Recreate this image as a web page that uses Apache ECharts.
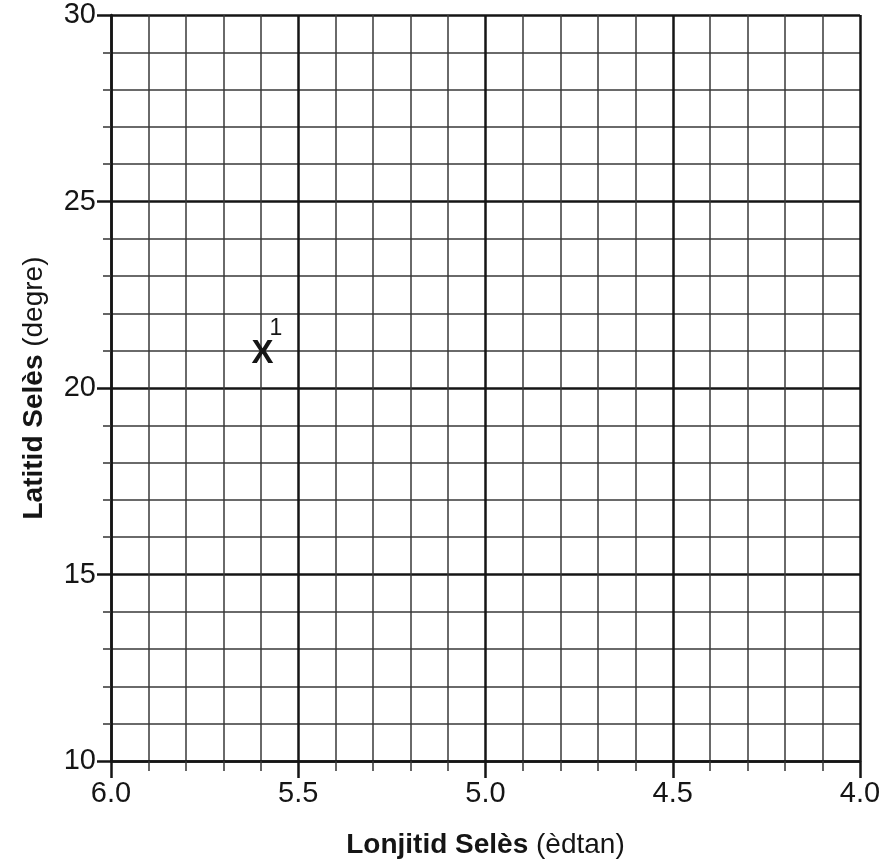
<!DOCTYPE html>
<html>
  <head>
    <meta charset="utf-8" />
    <script src="https://cdn.jsdelivr.net/npm/echarts/dist/echarts.min.js"></script>
  </head>
  <body style="margin:0">
    <div id="chart" style="width: 886px; height: 867px;"></div>
    <script>
        // Data
        var xRange = [4.0, 6.0];     // longitude (west), drawn reversed
        var yRange = [10, 30];       // latitude
        var pointLon = [5.6];
        var pointLat = [21];
        var pointLabels = ['1'];

        var font = '"Liberation Sans", Arial, Helvetica, sans-serif';
        var ink = '#151515';
        var chart = echarts.init(document.getElementById('chart'));

        var option = {
            animation: false,
            grid: { left: 111, right: 26, top: 15, bottom: 106 },
            xAxis: {
                type: 'value',
                inverse: true,
                min: xRange[0],
                max: xRange[1],
                interval: 0.5,
                name: '{b|Lonjitid Selès }{r|(èdtan)}',
                nameLocation: 'middle',
                nameGap: 70,
                nameTextStyle: {
                    rich: {
                        b: { fontFamily: font, fontSize: 28, fontWeight: 'bold', color: ink },
                        r: { fontFamily: font, fontSize: 28, color: ink }
                    }
                },
                axisLine: { show: true, onZero: false, lineStyle: { color: ink, width: 2.5 } },
                axisTick: { show: true, length: 17, lineStyle: { color: ink, width: 2.5 } },
                minorTick: { show: true, splitNumber: 5, length: 10, lineStyle: { color: '#333', width: 1.5 } },
                axisLabel: {
                    margin: 18,
                    fontFamily: font, fontSize: 29, color: ink,
                    formatter: function (v) { return v.toFixed(1); }
                },
                splitLine: { show: true, lineStyle: { color: ink, width: 2.5 } },
                minorSplitLine: { show: true, lineStyle: { color: '#3a3a3a', width: 1.5 } }
            },
            yAxis: {
                type: 'value',
                min: yRange[0],
                max: yRange[1],
                interval: 5,
                name: '{b|Latitid Selès }{r|(degre)}',
                nameLocation: 'middle',
                nameGap: 63,
                nameTextStyle: {
                    rich: {
                        b: { fontFamily: font, fontSize: 28, fontWeight: 'bold', color: ink },
                        r: { fontFamily: font, fontSize: 28, color: ink }
                    }
                },
                axisLine: { show: true, onZero: false, lineStyle: { color: ink, width: 2.5 } },
                axisTick: { show: true, length: 14, lineStyle: { color: ink, width: 2.5 } },
                minorTick: { show: true, splitNumber: 5, length: 8, lineStyle: { color: '#333', width: 1.5 } },
                axisLabel: { margin: 15, fontFamily: font, fontSize: 29, color: ink },
                splitLine: { show: true, lineStyle: { color: ink, width: 2.5 } },
                minorSplitLine: { show: true, lineStyle: { color: '#3a3a3a', width: 1.5 } }
            },
            series: [{
                type: 'scatter',
                symbolSize: 0,
                itemStyle: { opacity: 1, color: ink },
                data: pointLon.map(function (lon, i) { return [lon, pointLat[i], pointLabels[i]]; }),
                label: {
                    show: true,
                    position: 'inside',
                    offset: [6, 3],
                    color: ink,
                    textBorderWidth: 0,
                    formatter: function (p) { return '{x|X}{s|' + p.value[2] + '}'; },
                    rich: {
                        x: { fontFamily: font, fontSize: 33, fontWeight: 'bold', color: ink, width: 18, align: 'left', lineHeight: 74, verticalAlign: 'middle' },
                        s: { fontFamily: font, fontSize: 23, color: ink, lineHeight: 74, verticalAlign: 'top' }
                    }
                },
                emphasis: { disabled: true }
            }]
        };

        chart.setOption(option);
    </script>
  </body>
</html>
